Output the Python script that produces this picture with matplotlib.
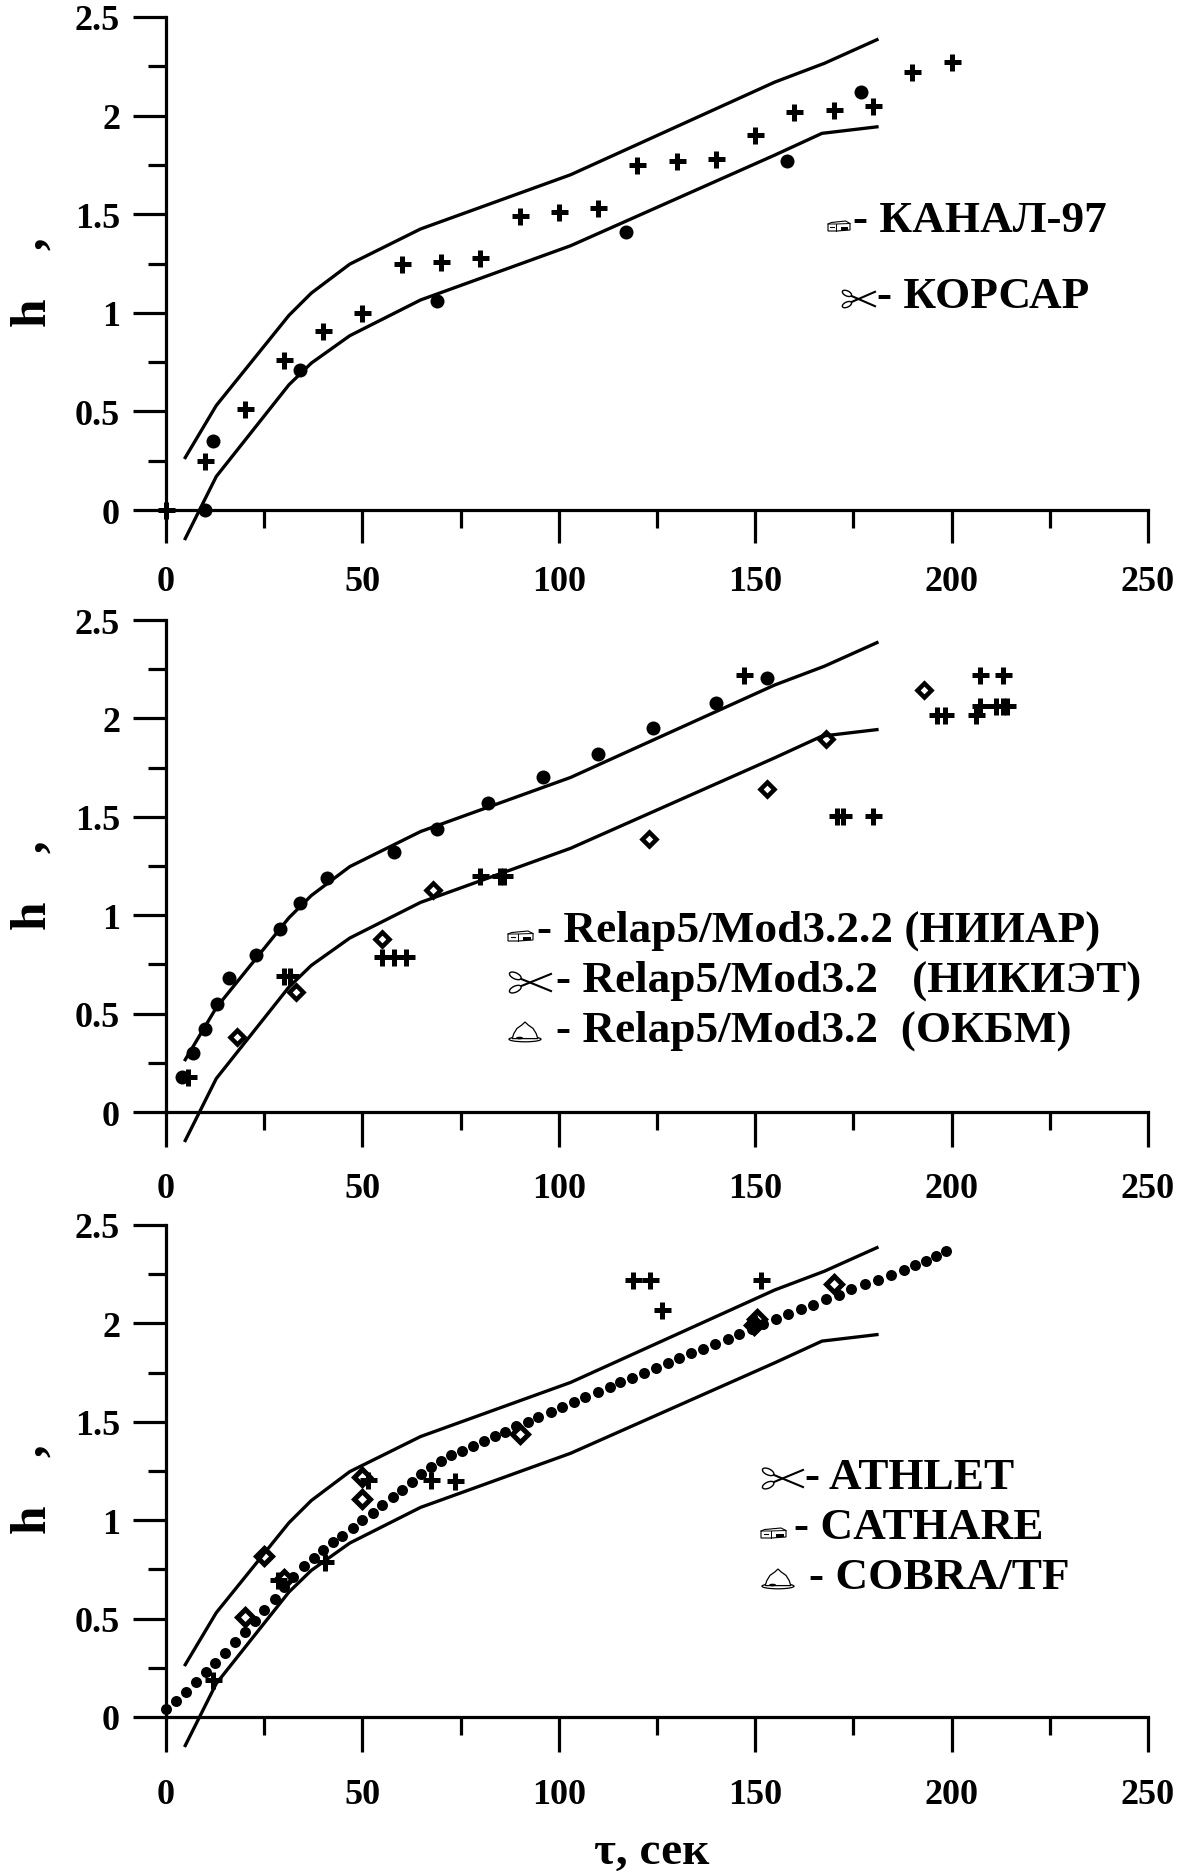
import matplotlib
matplotlib.use("Agg")
import matplotlib.pyplot as plt
from matplotlib.patches import Ellipse, Polygon, Rectangle

plt.rcParams["font.family"] = ["Liberation Serif", "DejaVu Serif"]
plt.rcParams["font.weight"] = "bold"

W, H, DPI = 1194, 1874, 100
PX = 72.0 / DPI  # one pixel in points

# envelope curves, same on every panel
upper_t = [4.9, 12.8, 31.3, 37, 46.8, 64.8, 103, 155, 167.6, 181]
upper_h = [0.266, 0.53, 0.987, 1.1, 1.247, 1.425, 1.70, 2.17, 2.265, 2.385]
lower_t = [4.9, 12.8, 31.3, 37, 46.8, 64.8, 103, 155, 167, 181]
lower_h = [-0.145, 0.17, 0.635, 0.745, 0.884, 1.065, 1.34, 1.80, 1.91, 1.943]

# panel 1
p1_cross_t = [0, 10, 20, 30, 40, 50, 60, 70, 80, 90, 100, 110, 120, 130, 140, 150, 160, 170, 180, 190, 200]
p1_cross_h = [0, 0.25, 0.51, 0.76, 0.91, 1.0, 1.25, 1.26, 1.28, 1.49, 1.51, 1.53, 1.75, 1.77, 1.78, 1.9, 2.02, 2.03, 2.05, 2.22, 2.27]
p1_dot_t = [10, 12, 34, 69, 117, 158, 177]
p1_dot_h = [0, 0.35, 0.71, 1.06, 1.41, 1.77, 2.12]

# panel 2
p2_dot_t = [4, 7, 10, 13, 16, 23, 29, 34, 41, 58, 69, 82, 96, 110, 124, 140, 153]
p2_dot_h = [0.18, 0.3, 0.42, 0.55, 0.68, 0.8, 0.93, 1.06, 1.19, 1.32, 1.44, 1.57, 1.7, 1.82, 1.95, 2.08, 2.207]
p2_cross_t = [5.5, 30, 31.5, 55, 58, 61, 80, 85, 86, 147.1, 170.9, 172.3, 180, 196.3, 198.2, 206.2, 207.2, 207.2, 213.2, 211.2, 213.2, 214]
p2_cross_h = [0.18, 0.69, 0.69, 0.79, 0.79, 0.79, 1.2, 1.2, 1.2, 2.222, 1.506, 1.506, 1.506, 2.017, 2.017, 2.017, 2.222, 2.065, 2.222, 2.065, 2.065, 2.065]
p2_diam_t = [18, 33, 55, 68, 123, 153, 168, 193.1]
p2_diam_h = [0.38, 0.61, 0.88, 1.13, 1.387, 1.64, 1.893, 2.143]

# panel 3
p3_dot_t = [0, 2.5, 5, 7.6, 10.1, 12.6, 15, 17.6, 20.1, 22.6, 25, 27.8, 30, 32.4, 35.2, 37.7, 40, 42.5, 44.9,
            47.6, 50, 52.6, 55.1, 57.7, 60, 62.6, 65, 67.4, 69.9, 72.6, 75.4, 78.1, 81, 83.8, 86.3, 89.1,
            92.1, 94.8, 97.9, 100.8, 103.8, 106.7, 110, 113, 115.7, 118.6, 121.7, 124.7, 127.8, 130.6,
            133.7, 136.8, 139.8, 143, 146, 149.1, 152.1, 155.2, 158.4, 161.6, 164.8, 168, 171.3, 174.5,
            177.9, 181.2, 184.5, 187.8, 190.6, 193.5, 196.1, 198.5]
p3_dot_h = [0.043, 0.081, 0.125, 0.178, 0.227, 0.274, 0.325, 0.379, 0.433, 0.489, 0.543, 0.6, 0.66, 0.71, 0.767,
            0.81, 0.85, 0.888, 0.922, 0.961, 1.0, 1.038, 1.078, 1.118, 1.154, 1.194, 1.233, 1.27, 1.30, 1.33,
            1.354, 1.379, 1.40, 1.428, 1.45, 1.477, 1.50, 1.524, 1.552, 1.575, 1.60, 1.624, 1.652, 1.677,
            1.70, 1.724, 1.75, 1.775, 1.80, 1.822, 1.848, 1.872, 1.897, 1.922, 1.948, 1.973, 1.995, 2.022,
            2.047, 2.073, 2.096, 2.122, 2.146, 2.173, 2.198, 2.222, 2.247, 2.273, 2.295, 2.318, 2.345, 2.369]
p3_cross_t = [12, 28.6, 40.5, 51.5, 67.5, 73.6, 118.8, 123.3, 126.3, 151.6, 150]
p3_cross_h = [0.19, 0.695, 0.79, 1.203, 1.203, 1.2, 2.218, 2.218, 2.07, 2.218, 2.0]
p3_diam_t = [20, 25, 30, 50, 50, 90, 149.7, 150.5, 170]
p3_diam_h = [0.51, 0.82, 0.7, 1.22, 1.11, 1.44, 1.99, 2.02, 2.2]

x_ticks = [0, 50, 100, 150, 200, 250]
x_minor = [25, 75, 125, 175, 225]
y_ticks = [0, 0.5, 1, 1.5, 2, 2.5]
y_minor = [0.25, 0.75, 1.25, 1.75, 2.25]
y_labels = ["0", "0.5", "1", "1.5", "2", "2.5"]

# top and bottom (y=2.5, y=0) of each panel in pixels, then x tick length and label pad
panels = [(18, 511, 33, 22), (621, 1113, 35, 25), (1226, 1718, 35, 26)]
LEFT, RIGHT = 166, 1148


def setup_axes(fig, top, bottom, xlen, xpad):
    ax = fig.add_axes([LEFT / W, 1 - bottom / H, (RIGHT - LEFT) / W, (bottom - top) / H])
    ax.set_xlim(0, 250)
    ax.set_ylim(0, 2.5)
    ax.patch.set_alpha(0)
    ax.spines["top"].set_visible(False)
    ax.spines["right"].set_visible(False)
    for s in ["left", "bottom"]:
        ax.spines[s].set_linewidth(3.2 * PX)
    ax.set_xticks(x_ticks)
    ax.set_xticks(x_minor, minor=True)
    ax.set_yticks(y_ticks)
    ax.set_yticks(y_minor, minor=True)
    ax.set_xticklabels([str(v) for v in x_ticks])
    ax.set_yticklabels(y_labels)
    ax.tick_params(axis="x", which="major", length=xlen * PX, width=3.2 * PX, pad=xpad * PX, labelsize=26)
    ax.tick_params(axis="y", which="major", length=33 * PX, width=3.2 * PX, pad=13 * PX, labelsize=26)
    ax.tick_params(which="minor", length=18 * PX, width=3.2 * PX)
    ax.plot(upper_t, upper_h, color="k", lw=3.3 * PX, clip_on=False)
    ax.plot(lower_t, lower_h, color="k", lw=3.3 * PX, clip_on=False)
    return ax


def dots(ax, t, h, size=14):
    ax.plot(t, h, ls="none", marker="o", ms=size * PX, mfc="k", mec="k", mew=0, clip_on=False, zorder=4)


def crosses(ax, t, h):
    ax.plot(t, h, ls="none", marker="+", ms=17 * PX, mec="k", mew=5 * PX, clip_on=False, zorder=5)


def diamonds(ax, t, h, size=10, edge=4):
    ax.plot(t, h, ls="none", marker="D", ms=size * PX, mfc="none", mec="k", mew=edge * PX, clip_on=False, zorder=5)


# wingdings pictograms of the legends, x0/y0 = lower left in pixels
def mailbox(ov, x0, y0, w=24, h=10):
    ov.add_patch(Polygon([(x0, y0), (x0, y0 - h * 0.7), (x0 + w * 0.15, y0 - h * 0.85), (x0 + w * 0.8, y0 - h),
                          (x0 + w, y0 - h * 0.75), (x0 + w, y0 - 1), (x0 + w * 0.4, y0)],
                         fc="w", ec="k", lw=0.8))
    ov.plot([x0 + w * 0.38, x0 + w * 0.38], [y0, y0 - h * 0.7], color="k", lw=0.7)
    ov.plot([x0, x0 + w * 0.38, x0 + w], [y0 - h * 0.7, y0 - h * 0.7, y0 - h * 0.75], color="k", lw=0.7)
    ov.add_patch(Rectangle((x0 + w * 0.6, y0 - h * 0.45), w * 0.32, h * 0.3, fc="k", ec="none"))
    ov.plot([x0 + w * 0.1, x0 + w * 0.28], [y0 - h * 0.4, y0 - h * 0.4], color="k", lw=0.8)


def scissors(ov, x0, y0, w=40, h=18):
    ov.plot([x0 + w * 0.22, x0 + w], [y0 - h * 0.25, y0 - h * 0.95], color="k", lw=1.5)
    ov.plot([x0 + w * 0.22, x0 + w], [y0 - h * 0.75, y0 - h * 0.05], color="k", lw=1.5)
    for yy, ang in [(y0 - h * 0.85, 25), (y0 - h * 0.15, -25)]:
        ov.add_patch(Ellipse((x0 + w * 0.15, yy), w * 0.3, h * 0.32, angle=ang, fc="w", ec="k", lw=1.0, zorder=3))


def bell(ov, x0, y0, w=32, h=20):
    ov.add_patch(Ellipse((x0 + w * 0.5, y0 - h * 0.14), w, h * 0.26, fc="w", ec="k", lw=0.9, zorder=2))
    ov.add_patch(Polygon([(x0 + w * 0.1, y0 - h * 0.17), (x0 + w * 0.15, y0 - h * 0.42), (x0 + w * 0.25, y0 - h * 0.68),
                          (x0 + w * 0.4, y0 - h * 0.85), (x0 + w * 0.5, y0 - h), (x0 + w * 0.6, y0 - h * 0.85),
                          (x0 + w * 0.75, y0 - h * 0.68), (x0 + w * 0.85, y0 - h * 0.42), (x0 + w * 0.9, y0 - h * 0.17)],
                         fc="w", ec="k", lw=0.9, zorder=3))
    ov.add_patch(Ellipse((x0 + w * 0.33, y0 - h * 0.2), w * 0.22, h * 0.13, fc="k", ec="none", zorder=4))


fig = plt.figure(figsize=(W / DPI, H / DPI), dpi=DPI, facecolor="white")

ax1 = setup_axes(fig, *panels[0])
dots(ax1, p1_dot_t, p1_dot_h)
crosses(ax1, p1_cross_t, p1_cross_h)

ax2 = setup_axes(fig, *panels[1])
dots(ax2, p2_dot_t, p2_dot_h)
crosses(ax2, p2_cross_t, p2_cross_h)
diamonds(ax2, p2_diam_t, p2_diam_h, size=9.5, edge=4.5)

ax3 = setup_axes(fig, *panels[2])
dots(ax3, p3_dot_t, p3_dot_h, size=11)
crosses(ax3, p3_cross_t, p3_cross_h)
diamonds(ax3, p3_diam_t, p3_diam_h, size=12, edge=5)

# overlay in pixel coordinates for the legends and axis titles
ov = fig.add_axes([0, 0, 1, 1])
ov.set_xlim(0, W)
ov.set_ylim(H, 0)
ov.axis("off")
ov.patch.set_alpha(0)

LEG = 32.6


def leg(x, y, s):
    ov.text(x, y, s, fontsize=LEG, fontweight="bold", ha="left", va="baseline")


leg(853, 232, "- КАНАЛ-97")
leg(877, 308, "- КОРСАР")
mailbox(ov, 828, 232, 22, 10)
scissors(ov, 842, 308, 33, 16)

leg(537, 942, "- Relap5/Mod3.2.2 (НИИАР)")
leg(556, 992, "- Relap5/Mod3.2   (НИКИЭТ)")
leg(556, 1042, "- Relap5/Mod3.2  (ОКБМ)")
mailbox(ov, 508, 942, 25, 10)
scissors(ov, 509, 993, 42, 19)
bell(ov, 509, 1043, 32, 20)

leg(805, 1489, "- ATHLET")
leg(794, 1539, "- CATHARE")
leg(809, 1589, "- COBRA/TF")
scissors(ov, 762, 1489, 41, 19)
mailbox(ov, 761, 1539, 25, 10)
bell(ov, 762, 1590, 32, 20)

for yc in [312, 915, 1519]:
    ov.text(33, yc, "h", fontsize=37, rotation=90, ha="center", va="center")
    ov.text(30, yc - 68, ",", fontsize=37, rotation=90, ha="center", va="center")

ov.text(652, 1853, "τ, сек", fontsize=34, ha="center", va="center")

fig.savefig("out.png", dpi=DPI)
